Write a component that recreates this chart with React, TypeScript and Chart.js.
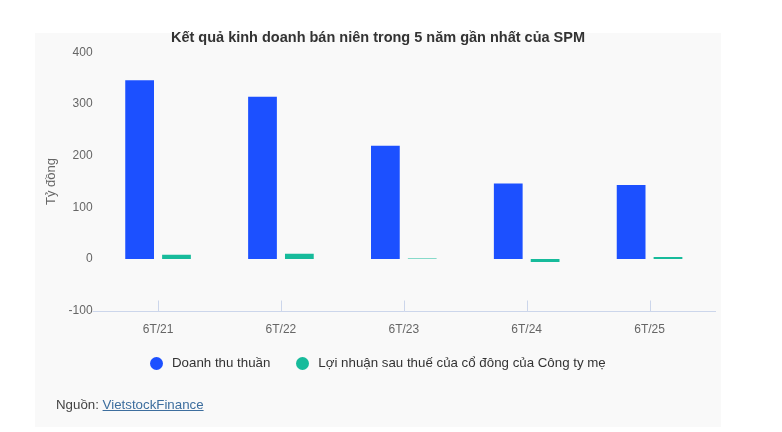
import { useEffect, useRef } from "react"
import { Chart, ChartConfiguration, Plugin, registerables } from "chart.js"

Chart.register(...registerables)

const periods = ["6T/21", "6T/22", "6T/23", "6T/24", "6T/25"]
const revenue = [346, 314, 219, 146, 143]
const profit = [8, 10, 1, -6, 4]
const yTicks = [-100, 0, 100, 200, 300, 400]

const seriesNames = ["Doanh thu thuần", "Lợi nhuận sau thuế của cổ đông của Công ty mẹ"]
const seriesColors = ["#1c50ff", "#17bb9b"]

const FONT = "'Liberation Sans', Arial, sans-serif"
const AXIS = "#ccd6eb"

// x axis line (a bit wider than the plot) + small tick marks standing up from it
const axisDecor: Plugin<"bar"> = {
  id: "axisDecor",
  afterDraw(chart) {
    const x = chart.scales.x
    const { left, right, bottom } = chart.chartArea
    const ctx = chart.ctx
    const yb = Math.round(bottom) + 0.5
    ctx.save()
    ctx.strokeStyle = AXIS
    ctx.lineWidth = 1
    ctx.beginPath()
    ctx.moveTo(left - 4, yb)
    ctx.lineTo(right + 5, yb)
    ctx.stroke()
    x.ticks.forEach((_, i) => {
      const px = Math.round(x.getPixelForTick(i)) + 0.5
      ctx.beginPath()
      ctx.moveTo(px, yb - 11)
      ctx.lineTo(px, yb)
      ctx.stroke()
    })
    ctx.restore()
  }
}

function ResultChart() {
  const chartRef = useRef<HTMLCanvasElement>(null)

  useEffect(() => {
    if (!chartRef.current) return
    const ctx = chartRef.current.getContext("2d")
    if (!ctx) return

    const config: ChartConfiguration<"bar"> = {
      type: "bar",
      data: {
        labels: periods,
        datasets: [
          {
            label: seriesNames[0],
            data: revenue,
            backgroundColor: seriesColors[0],
            categoryPercentage: 0.6,
            barPercentage: 0.78
          },
          {
            label: seriesNames[1],
            data: profit,
            backgroundColor: seriesColors[1],
            categoryPercentage: 0.6,
            barPercentage: 0.78
          }
        ]
      },
      options: {
        animation: false,
        responsive: true,
        maintainAspectRatio: false,
        layout: { padding: { left: 35, right: 61, top: 0, bottom: 83 } },
        plugins: {
          title: {
            display: true,
            text: "Kết quả kinh doanh bán niên trong 5 năm gần nhất của SPM",
            color: "#333",
            font: { family: FONT, size: 14.5, weight: "bold" },
            padding: { top: 29, bottom: 6 }
          },
          legend: { display: false },
          tooltip: { enabled: false }
        },
        scales: {
          x: {
            grid: { display: false, drawTicks: false },
            border: { display: false },
            ticks: { color: "#666", font: { family: FONT, size: 12 }, padding: 12 }
          },
          y: {
            min: yTicks[0],
            max: yTicks[yTicks.length - 1],
            grid: { display: false, drawTicks: false },
            border: { display: false },
            afterBuildTicks: (scale) => {
              scale.ticks = yTicks.map((v) => ({ value: v }))
            },
            ticks: { color: "#666", font: { family: FONT, size: 12 }, padding: 4 },
            title: {
              display: true,
              text: "Tỷ đồng",
              color: "#666",
              font: { family: FONT, size: 13 },
              padding: { top: 9, bottom: 5 }
            }
          },
          // empty right-hand axis, only keeps the plot off the panel's right edge
          y2: {
            position: "right",
            display: true,
            grid: { display: false, drawTicks: false },
            border: { display: false },
            ticks: { display: false },
            afterFit: (scale) => {
              scale.width = 10
            }
          }
        }
      },
      plugins: [axisDecor]
    }

    const chart = new Chart(ctx, config)
    return () => chart.destroy()
  }, [])

  return <canvas ref={chartRef} />
}

function Legend() {
  return (
    <div
      style={{
        position: "absolute",
        left: 150,
        top: 355,
        display: "flex",
        alignItems: "center",
        fontFamily: FONT,
        fontSize: 13.3,
        lineHeight: "16px",
        color: "#333",
        whiteSpace: "nowrap"
      }}
    >
      {seriesNames.map((name, i) => (
        <div key={name} style={{ display: "flex", alignItems: "center", marginRight: i === 0 ? 26 : 0 }}>
          <span
            style={{
              display: "inline-block",
              width: 13,
              height: 13,
              borderRadius: "50%",
              background: seriesColors[i],
              marginRight: 9
            }}
          />
          <span>{name}</span>
        </div>
      ))}
    </div>
  )
}

export default function App() {
  return (
    <div style={{ position: "absolute", left: 0, top: 0, width: 782, height: 432, background: "#fff" }}>
      <div style={{ position: "absolute", left: 35, top: 33, width: 686, height: 394, background: "#f9f9f9" }} />
      <div style={{ position: "absolute", left: 0, top: 0, width: 782, height: 432 }}>
        <ResultChart />
      </div>
      <Legend />
      <div
        style={{
          position: "absolute",
          left: 56,
          top: 397,
          fontFamily: FONT,
          fontSize: 13.3,
          color: "#444",
          lineHeight: "16px"
        }}
      >
        Nguồn: <a href="#" style={{ color: "#3d6e9e" }}>VietstockFinance</a>
      </div>
    </div>
  )
}
